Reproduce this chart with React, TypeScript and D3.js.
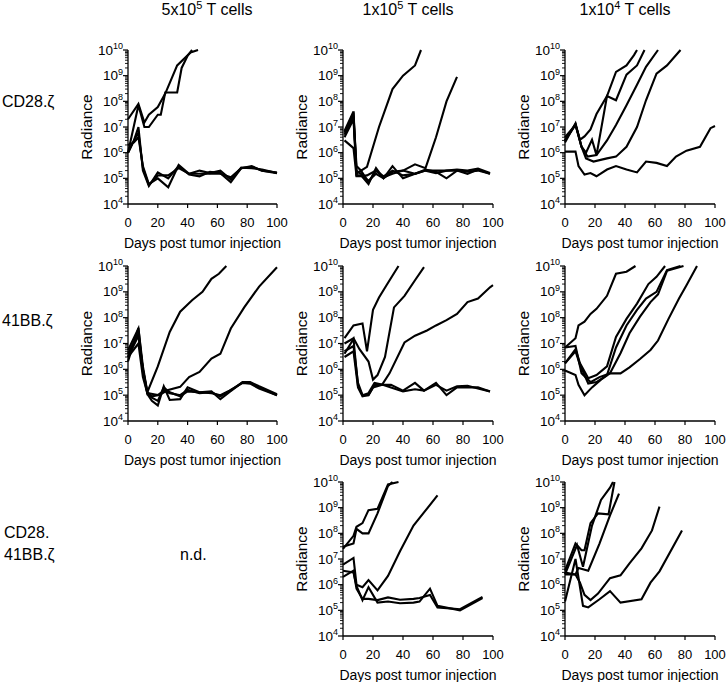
import React from "react";
import * as d3 from "d3";

// column / row headings
const colTitles = [
  { base: "5x10", sup: "5", rest: " T cells" },
  { base: "1x10", sup: "5", rest: " T cells" },
  { base: "1x10", sup: "4", rest: " T cells" },
];
const rowTitles = [["CD28.\u03B6"], ["41BB.\u03B6"], ["CD28.", "41BB.\u03B6"]];
const xTicks = [0, 20, 40, 60, 80, 100];
const yExponents = [4, 5, 6, 7, 8, 9, 10];

// each mouse: [day, radiance]
const cd28_5e5 = [
  [[0, 2e7], [7, 8e7], [11, 1.5e7], [14, 3e7], [20, 6e7], [25, 2e8], [33, 2.5e9], [42, 8e9], [47, 1e10]],
  [[0, 1e6], [7, 7e7], [11, 1e7], [14, 1e7], [20, 3e7], [22, 3e7], [25, 2.2e8], [33, 2.2e8], [36, 2e9], [40, 6e9], [43, 1e10]],
  [[0, 1e6], [4, 3e6], [7, 1e7], [10, 2e5], [14, 5e4], [20, 1.7e5], [27, 1e5], [34, 3e5], [41, 1.4e5], [48, 1.2e5], [55, 1.8e5], [62, 1.6e5], [69, 7e4], [76, 2.5e5], [83, 2.8e5], [90, 2e5], [100, 1.6e5]],
  [[0, 2e6], [4, 2.5e6], [7, 4e6], [10, 3e5], [14, 6e4], [20, 1e5], [27, 4.5e4], [34, 3.3e5], [41, 1.5e5], [48, 2e5], [55, 1.6e5], [62, 2e5], [69, 9e4], [76, 2.6e5], [83, 2.5e5], [90, 2.2e5], [100, 1.6e5]],
  [[0, 1e6], [4, 3e6], [7, 6e6], [10, 2.5e5], [14, 5.5e4], [20, 1.3e5], [27, 1.3e5], [34, 2.5e5], [41, 1.5e5], [48, 1.5e5], [55, 1.5e5], [62, 1.5e5], [69, 1.1e5], [76, 2.5e5], [83, 3e5], [90, 2e5], [100, 1.7e5]],
];

const cd28_1e5 = [
  [[1, 6e6], [7, 3e7], [9, 3e5], [12, 2e5], [16, 2.8e5], [24, 1e7], [33, 3e8], [40, 1e9], [48, 2.5e9], [52, 1e10]],
  [[1, 3e6], [7, 1.5e6], [9, 1.2e5], [12, 1.2e5], [16, 1.3e5], [22, 2e5], [27, 1.1e5], [33, 1.5e5], [40, 2e5], [48, 3.5e5], [55, 2.5e5], [62, 4e6], [69, 1e8], [76, 9e8]],
  [[1, 4e6], [7, 2e7], [9, 1.3e5], [12, 1.3e5], [17, 6e4], [22, 2.5e5], [27, 1e5], [33, 3e5], [40, 1e5], [48, 1.5e5], [55, 2.2e5], [62, 1.8e5], [69, 1e5], [76, 2e5], [83, 1.5e5], [90, 2.2e5], [98, 1.5e5]],
  [[1, 5e6], [7, 2.5e7], [9, 2e5], [12, 1.5e5], [17, 8e4], [22, 1.5e5], [27, 1e5], [33, 1.8e5], [40, 2e5], [48, 1.5e5], [55, 2e5], [62, 2e5], [69, 2e5], [76, 2e5], [83, 1.8e5], [90, 2e5], [98, 1.5e5]],
  [[1, 7e6], [7, 4e7], [9, 1.5e5], [12, 2e5], [17, 7e4], [22, 2e5], [27, 1.2e5], [33, 2e5], [40, 1.3e5], [48, 1.5e5], [55, 2e5], [62, 1.6e5], [69, 2e5], [76, 2.2e5], [83, 2e5], [90, 2.4e5], [98, 1.6e5]],
];

const cd28_1e4 = [
  [[0, 1.1e6], [7, 1.1e6], [9, 3e5], [13, 1.4e5], [17, 1.6e5], [21, 1.2e5], [28, 2.2e5], [34, 3e5], [41, 2.2e5], [48, 1.7e5], [54, 4.5e5], [61, 4e5], [68, 3e5], [74, 7e5], [81, 1.2e6], [90, 1.7e6], [97, 9e6], [100, 1.1e7]],
  [[0, 2.5e6], [7, 1.4e7], [11, 1.7e6], [14, 6e5], [19, 4.5e5], [28, 6e5], [34, 7e5], [41, 1.7e6], [48, 1e7], [54, 1.1e8], [61, 1.2e9], [68, 2.5e9], [77, 1e10]],
  [[0, 3e6], [7, 1.2e7], [11, 1.7e6], [15, 7e5], [21, 8e5], [28, 3e6], [34, 1.2e7], [41, 7e7], [48, 4.4e8], [54, 2.2e9], [62, 1e10]],
  [[0, 3e6], [7, 1.3e7], [11, 1.7e6], [14, 1e6], [18, 3.2e6], [21, 8e5], [28, 1.6e8], [34, 1.1e8], [41, 1.1e9], [48, 2.5e9], [53, 1e10]],
  [[0, 4e6], [7, 1.2e7], [10, 3.2e6], [13, 4.3e6], [17, 8e6], [21, 3.2e7], [28, 1.6e8], [34, 1.4e9], [41, 2.5e9], [46, 6.3e9], [48, 1e10]],
];

const bb_5e5 = [
  [[0, 5.5e6], [7, 3.8e7], [10, 1.3e6], [13, 1.3e5], [20, 1.3e6], [28, 2.8e7], [35, 1.7e8], [43, 4.7e8], [50, 1e9], [56, 3.2e9], [61, 5e9], [66, 1e10]],
  [[0, 3e6], [7, 2e7], [10, 1e6], [13, 1.2e5], [21, 1e5], [27, 1.6e5], [35, 2.1e5], [41, 5e5], [48, 8e5], [56, 2.6e6], [62, 4e6], [69, 3.8e7], [78, 2.5e8], [88, 1.6e9], [100, 9e9]],
  [[0, 2e6], [7, 4e7], [10, 8e5], [13, 1.1e5], [16, 6e4], [20, 4e4], [24, 2.2e5], [28, 6.5e4], [35, 7e4], [40, 2e5], [48, 1.3e5], [56, 1.4e5], [62, 7e4], [68, 1.3e5], [77, 3.2e5], [82, 3e5], [88, 2e5], [100, 1e5]],
  [[0, 3e6], [7, 1e7], [10, 5e5], [13, 1.2e5], [16, 8e4], [20, 6e4], [24, 2e5], [28, 1.3e5], [35, 9e4], [40, 1.4e5], [48, 1.3e5], [56, 1.2e5], [62, 1e5], [68, 1.5e5], [77, 3e5], [82, 2.8e5], [88, 1.8e5], [100, 1e5]],
  [[0, 4e6], [7, 2.5e7], [10, 1e6], [13, 1.3e5], [16, 9e4], [20, 1e5], [24, 1.5e5], [28, 1.2e5], [35, 1e5], [40, 1.6e5], [48, 1.2e5], [56, 1.3e5], [62, 9e4], [68, 1.4e5], [77, 3.2e5], [82, 3.2e5], [88, 2.2e5], [100, 1.1e5]],
];

const bb_1e5 = [
  [[1, 1.6e7], [7, 5e7], [13, 6e7], [16, 5e6], [20, 2e8], [24, 6e8], [29, 1.8e9], [37, 1e10]],
  [[1, 1e7], [7, 1.6e7], [11, 6e6], [17, 2e6], [20, 4e5], [23, 6e5], [28, 3e6], [34, 2.5e8], [41, 7e8], [48, 2.8e9], [54, 9e9]],
  [[1, 5e6], [7, 8e6], [10, 3e5], [13, 1e5], [17, 1e5], [20, 2e5], [26, 2.5e5], [31, 7e5], [41, 1.1e7], [48, 2e7], [56, 3.2e7], [62, 5e7], [69, 8e7], [76, 1.4e8], [83, 4e8], [90, 5.5e8], [98, 1.5e9], [100, 1.8e9]],
  [[1, 3e6], [7, 5e6], [10, 2e5], [13, 9e4], [17, 1e5], [21, 2.5e5], [26, 2.5e5], [32, 2.5e5], [40, 1.5e5], [48, 3e5], [54, 1.5e5], [62, 3e5], [69, 1e5], [76, 2e5], [83, 2e5], [90, 2e5], [98, 1.4e5]],
  [[1, 4e6], [7, 1.5e7], [10, 2.2e5], [13, 1e5], [17, 1.2e5], [21, 3e5], [26, 2.6e5], [32, 2e5], [40, 1.4e5], [48, 1.7e5], [54, 1.5e5], [62, 2.5e5], [69, 1.5e5], [76, 2.2e5], [83, 2.3e5], [90, 1.8e5], [98, 1.4e5]],
];

const bb_1e4 = [
  [[0, 7e6], [7, 1.6e7], [9, 5e7], [13, 7e7], [17, 1.4e8], [21, 2.2e8], [28, 7e8], [34, 5e9], [41, 6e9], [47, 1e10]],
  [[0, 1.7e6], [7, 6e6], [10, 1.7e6], [15.5, 4.5e5], [21, 6e5], [28, 1.3e6], [34, 1.8e7], [41, 9e7], [48, 3.5e8], [55.6, 2e9], [61, 3.8e9], [66.7, 1e10]],
  [[0, 1.7e6], [7, 5e6], [10, 1.5e6], [15.5, 2.8e5], [21, 3.2e5], [28, 6e5], [34, 7e6], [41, 5e7], [48, 2e8], [54, 5.5e8], [61, 1e9], [68, 7e9], [77, 1e10]],
  [[0, 9e5], [7, 6e5], [9, 2.5e5], [13, 1e5], [18, 2e5], [24, 4e5], [30, 7e5], [37, 4.2e6], [43, 2.5e7], [50, 1.1e8], [57, 4e8], [62, 8e8], [68, 6.5e9], [75, 8.5e9], [79, 1e10]],
  [[0, 7e6], [7, 8e6], [11, 7e5], [17, 3.2e5], [23, 5e5], [30, 7e5], [37, 7e5], [43, 1.2e6], [50, 2.5e6], [57, 5.6e6], [62, 1.3e7], [69, 9e7], [76, 5.5e8], [81, 1.8e9], [88, 1e10]],
];

const both_1e5 = [
  [[0, 2.5e7], [7, 8e7], [9, 1.8e8], [13, 2.5e8], [17, 8e8], [23, 9e8], [30, 8e9], [37, 1e10]],
  [[0, 3e7], [7, 4e7], [9, 1.5e8], [13, 1e8], [17, 1e8], [23, 6e8], [30, 7e9], [33, 1e10]],
  [[0, 6e6], [7, 1.1e7], [9, 1e6], [13, 8e5], [17, 1.5e6], [23, 6e5], [30, 2.2e6], [38, 2e7], [47, 2e8], [54, 6.5e8], [63, 3e9]],
  [[0, 3.5e6], [7, 3e6], [9, 9e5], [13, 2.5e5], [17, 8e5], [23, 2e5], [30, 2.2e5], [38, 1.9e5], [47, 2e5], [51, 2.2e5], [58, 7e5], [63, 1.5e5], [78, 1e5], [93, 3e5]],
  [[0, 2e6], [7, 3.5e6], [9, 7e5], [13, 2.8e5], [17, 2.8e5], [23, 2.5e5], [30, 3.2e5], [38, 2.6e5], [47, 2.8e5], [51, 3e5], [58, 4e5], [63, 1.3e5], [78, 1.1e5], [93, 3.3e5]],
];

const both_1e4 = [
  [[0, 3.5e6], [7, 4e7], [11, 2.2e7], [13, 2.2e7], [17, 2.5e8], [22, 6e8], [29, 5.5e8], [33, 1e10]],
  [[0, 2.5e6], [8, 3.5e7], [12, 5e6], [18, 2e8], [24, 2e9], [30, 6e9], [32, 1e10]],
  [[0, 3e6], [7, 2.5e6], [9, 4.5e6], [15.5, 3.5e6], [23, 4e7], [30, 5e8], [36, 3.5e9]],
  [[0, 2.5e6], [7, 2.5e6], [10, 1.2e6], [13, 4e5], [17, 2.5e5], [22, 4.5e5], [30, 1.8e6], [37, 2.3e6], [43, 6.8e6], [51, 2.6e7], [58, 1.3e8], [63, 1.1e9]],
  [[0, 2.2e5], [7, 1e7], [12, 1.5e5], [15.5, 1.3e5], [23, 2.7e5], [30, 5.6e5], [37, 2e5], [51, 2.7e5], [57, 1.2e6], [63, 3.3e6], [78, 1.3e8]],
];

const grid = [
  [cd28_5e5, cd28_1e5, cd28_1e4],
  [bb_5e5, bb_1e5, bb_1e4],
  [null, both_1e5, both_1e4],
];

const colX = [[128, 277], [343, 493], [565, 715]];
const rowY = [[204, 50], [421, 266], [636, 482]];
const titleX = [207, 408, 625];
const FONT = "'Liberation Sans', Arial, Helvetica, sans-serif";

function Panel({ series, col, row }) {
  const x = d3.scaleLinear().domain([0, 100]).range(colX[col]);
  const y = d3.scaleLog().domain([1e4, 1e10]).range(rowY[row]);
  const line = d3.line().x((d) => x(d[0])).y((d) => y(d[1]));
  const x0 = colX[col][0];
  const yb = rowY[row][0];
  const minor = y.ticks().filter((v) => Math.abs(Math.log10(v) - Math.round(Math.log10(v))) > 1e-6);
  const midY = (rowY[row][0] + rowY[row][1]) / 2;
  return (
    <g>
      {/* y axis */}
      <line x1={x0} x2={x0} y1={y(1e4)} y2={y(1e10)} stroke="#000" strokeWidth={1.3} />
      {minor.map((v, i) => (
        <line key={"m" + i} x1={x0 - 3} x2={x0} y1={y(v)} y2={y(v)} stroke="#000" strokeWidth={0.9} />
      ))}
      {yExponents.map((e) => (
        <g key={"e" + e}>
          <line x1={x0 - 5} x2={x0} y1={y(10 ** e)} y2={y(10 ** e)} stroke="#000" strokeWidth={1.2} />
          <text x={x0 - 5} y={y(10 ** e) + 4.5} textAnchor="end" fontSize={13.5} fontFamily={FONT}>
            10
            <tspan fontSize={9} dy={-5.5}>{e}</tspan>
          </text>
        </g>
      ))}
      <text
        transform={`translate(${x0 - 42},${midY}) rotate(-90)`}
        textAnchor="middle"
        dominantBaseline="central"
        fontSize={15.5}
        fontFamily={FONT}
      >
        Radiance
      </text>
      {/* x axis */}
      <line x1={colX[col][0]} x2={colX[col][1]} y1={yb} y2={yb} stroke="#000" strokeWidth={1.3} />
      {xTicks.map((t) => (
        <g key={"x" + t}>
          <line x1={x(t)} x2={x(t)} y1={yb} y2={yb + 4} stroke="#000" strokeWidth={1.2} />
          <text x={x(t)} y={yb + 22.5} textAnchor="middle" fontSize={13} fontFamily={FONT}>
            {t}
          </text>
        </g>
      ))}
      <text x={(colX[col][0] + colX[col][1]) / 2} y={yb + 43.5} textAnchor="middle" fontSize={14} fontFamily={FONT}>
        Days post tumor injection
      </text>
      {series.map((s, i) => (
        <path key={"s" + i} d={line(s)} fill="none" stroke="#000" strokeWidth={2.1} strokeLinejoin="miter" />
      ))}
    </g>
  );
}

export default function App() {
  return (
    <svg
      width={726}
      height={682}
      style={{ position: "absolute", left: 0, top: 0, background: "#fff" }}
      fontFamily={FONT}
    >
      {colTitles.map((c, i) => (
        <text key={"c" + i} x={titleX[i]} y={15} textAnchor="middle" fontSize={16}>
          {c.base}
          <tspan fontSize={11} dy={-6}>{c.sup}</tspan>
          <tspan dy={6}>{c.rest}</tspan>
        </text>
      ))}
      {rowTitles.map((r, i) =>
        r.map((t, j) => (
          <text
            key={"r" + i + j}
            x={i === 2 ? 4 : 2}
            y={i === 2 ? 538 + j * 22 : [107, 326][i]}
            fontSize={16}
          >
            {t}
          </text>
        ))
      )}
      <text x={180} y={560} fontSize={16}>
        n.d.
      </text>
      {grid.map((r, ri) =>
        r.map((s, ci) => (s ? <Panel key={ri + "-" + ci} series={s} col={ci} row={ri} /> : null))
      )}
    </svg>
  );
}
